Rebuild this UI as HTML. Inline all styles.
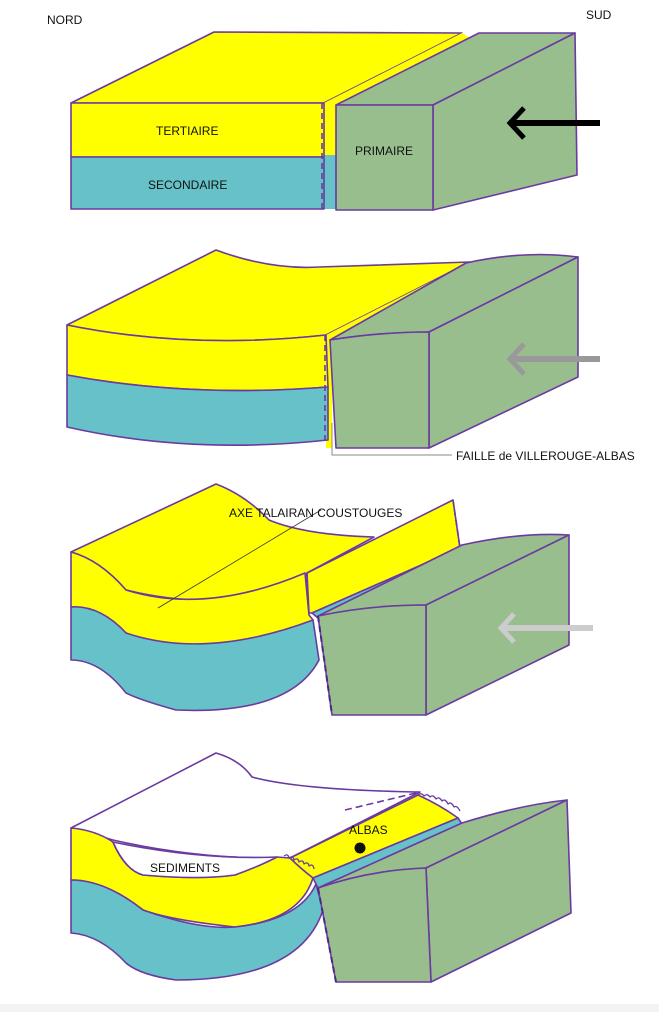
<!DOCTYPE html>
<html><head><meta charset="utf-8"><style>
body{margin:0;background:#fff;}
svg{display:block}
text{font-family:"Liberation Sans",sans-serif;font-size:12px;fill:#111}
</style></head><body>
<svg width="659" height="1012" viewBox="0 0 659 1012" xmlns="http://www.w3.org/2000/svg">
<rect width="659" height="1012" fill="#fff"/>
<rect y="1004" width="659" height="8" fill="#f3f3f6"/>
<g stroke="#6a3aa0" stroke-width="1.6" stroke-linejoin="round">
<!-- PANEL 1 -->
<polygon points="71,103 214,32 462,33 324,103" fill="#ffff00"/>
<polygon points="324,103 462,33 470,38 336,105 336,209 324,209" fill="#ffff00" stroke="none"/>
<rect x="324" y="155" width="12" height="54" fill="#66c2c8" stroke="none"/>
<rect x="71" y="103" width="253" height="54" fill="#ffff00"/>
<rect x="71" y="157" width="253" height="52" fill="#66c2c8"/>
<line x1="322" y1="103" x2="322" y2="209" stroke-dasharray="6,4"/>
<polygon points="336,105 479,33 575,33 433,105" fill="#98be8e"/>
<polygon points="433,105 575,33 577,175 433,210" fill="#98be8e"/>
<rect x="336" y="105" width="97" height="105" fill="#98be8e"/>
<!-- PANEL 2 -->
<path d="M67,325 L216,250 Q270,270 319,267 L470,262 L326,335 Q190,350 67,325Z" fill="#ffff00"/>
<path d="M326,335 L470,262 L478,266 L332,342 L332,448 L326,448Z" fill="#ffff00" stroke="none"/>
<path d="M67,325 Q190,350 326,335 L328,387 Q190,398 67,375Z" fill="#ffff00"/>
<path d="M67,375 Q190,398 328,387 L328,440 Q190,455 67,427Z" fill="#66c2c8"/>
<line x1="325" y1="335" x2="325" y2="440" stroke-dasharray="6,4"/>
<path d="M330,340 L466,263 Q525,250 578,257 L429,332 Q380,332 330,340Z" fill="#98be8e"/>
<path d="M429,332 L578,257 L578,377 L429,448Z" fill="#98be8e"/>
<path d="M330,340 Q380,332 429,332 L429,448 L336,448Z" fill="#98be8e"/>
<!-- PANEL 3 -->
<path d="M71,552 L216,484 Q245,495 269,520 Q305,535 374,537 L307,573 Q300,590 290,592 Q206,610 126,590 Q100,560 71,552Z" fill="#ffff00"/>
<path d="M307,573 L453,500 L460,548 L312,613 L307,613Z" fill="#ffff00"/>
<path d="M312,613 L460,548 L462,552 L318,618Z" fill="#66c2c8"/>
<path d="M71,552 Q100,560 126,590 Q206,615 305,573 L309,615 L313,620 Q260,660 206,653 Q150,645 126,633 Q100,605 71,607Z" fill="#ffff00"/>
<path d="M71,607 Q100,605 126,633 Q206,660 313,620 L319,660 Q290,715 176,710 Q140,700 126,693 Q100,660 71,660Z" fill="#66c2c8"/>
<line x1="307" y1="573" x2="309" y2="613"/>
<line x1="453" y1="500" x2="460" y2="548" stroke-dasharray="6,4"/>
<path d="M318,616 L462,545 Q520,532 569,535 L426,605 Q370,605 318,616Z" fill="#98be8e"/>
<path d="M426,605 L569,535 L569,645 L426,715Z" fill="#98be8e"/>
<path d="M318,616 Q370,605 426,605 L426,715 L332,715Z" fill="#98be8e"/>
<line x1="318" y1="616" x2="332" y2="715" stroke="#4a2a80" stroke-dasharray="6,4" stroke-width="2"/>
<!-- PANEL 4 -->
<path d="M71,828 L216,753 Q240,760 252,777 Q300,790 420,792 L290,858 Q200,860 113,840 Z" fill="#fff"/>
<path d="M71,828 Q95,830 113,842 Q125,870 143,875 Q200,880 235,875 Q260,865 277,857 L290,858 Q305,870 313,878 Q300,920 235,927 Q170,920 143,910 Q105,880 71,880Z" fill="#ffff00"/>
<path d="M113,842 Q200,860 277,857 Q260,866 235,875 Q200,880 143,875 Q125,870 113,842Z" fill="#fff"/>
<path d="M71,880 Q105,880 143,910 Q200,930 235,927 Q300,920 316,884 L323,910 Q300,980 176,980 Q140,975 126,963 Q100,935 71,933Z" fill="#66c2c8"/>
<path d="M290,858 L418,795 Q440,805 458,818 L313,878 Q300,868 290,858Z" fill="#ffff00"/>
<path d="M313,878 L458,818 L462,824 L318,888Z" fill="#66c2c8"/>
<line x1="345" y1="810" x2="420" y2="792" stroke-dasharray="7,4"/>
<path d="M318,888 L462,823 Q520,805 567,800 L426,868 Q370,870 318,888Z" fill="#98be8e"/>
<path d="M426,868 L567,800 L571,913 L431,982Z" fill="#98be8e"/>
<path d="M318,888 Q370,870 426,868 L431,982 L336,982Z" fill="#98be8e"/>
<line x1="318" y1="888" x2="336" y2="982" stroke="#4a2a80" stroke-dasharray="6,4" stroke-width="2"/>
<path d="M284,856 q4,-3 5,2 q4,-3 5,2 q4,-3 5,2 q4,-3 5,2 q4,-3 5,2 q4,-3 5,3" fill="none" stroke-width="1.3"/>
<path d="M418,795 q3,-3 6,1 q3,-3 6,1 q3,-3 6,2 q3,-3 6,2 q3,-3 6,3 q3,-3 6,3 q3,-2 6,4" fill="none" stroke-width="1.3"/>
</g>
<!-- arrows -->
<g fill="none" stroke-linecap="butt">
<line x1="512" y1="123" x2="600" y2="123" stroke="#000" stroke-width="6"/>
<polyline points="524,108 510,123 524,138" stroke="#000" stroke-width="5"/>
<line x1="512" y1="359" x2="600" y2="359" stroke="#999" stroke-width="6"/>
<polyline points="524,344 510,359 524,374" stroke="#999" stroke-width="5"/>
<line x1="502" y1="628" x2="593" y2="628" stroke="#ccc" stroke-width="6"/>
<polyline points="514,614 501,628 514,642" stroke="#ccc" stroke-width="5"/>
<polyline points="332,423 332,455 452,455" stroke="#888" stroke-width="1"/>
<line x1="321" y1="510" x2="158" y2="608" stroke="#333" stroke-width="0.8"/>
</g>
<circle cx="360" cy="848" r="5.5" fill="#111"/>
<text x="47" y="24">NORD</text>
<text x="586" y="19">SUD</text>
<text x="156" y="135">TERTIAIRE</text>
<text x="148" y="189">SECONDAIRE</text>
<text x="355" y="155">PRIMAIRE</text>
<text x="456" y="460">FAILLE de VILLEROUGE-ALBAS</text>
<text x="229" y="517">AXE  TALAIRAN  COUSTOUGES</text>
<text x="349" y="834">ALBAS</text>
<text x="150" y="872">SEDIMENTS</text>
</svg>
</body></html>
